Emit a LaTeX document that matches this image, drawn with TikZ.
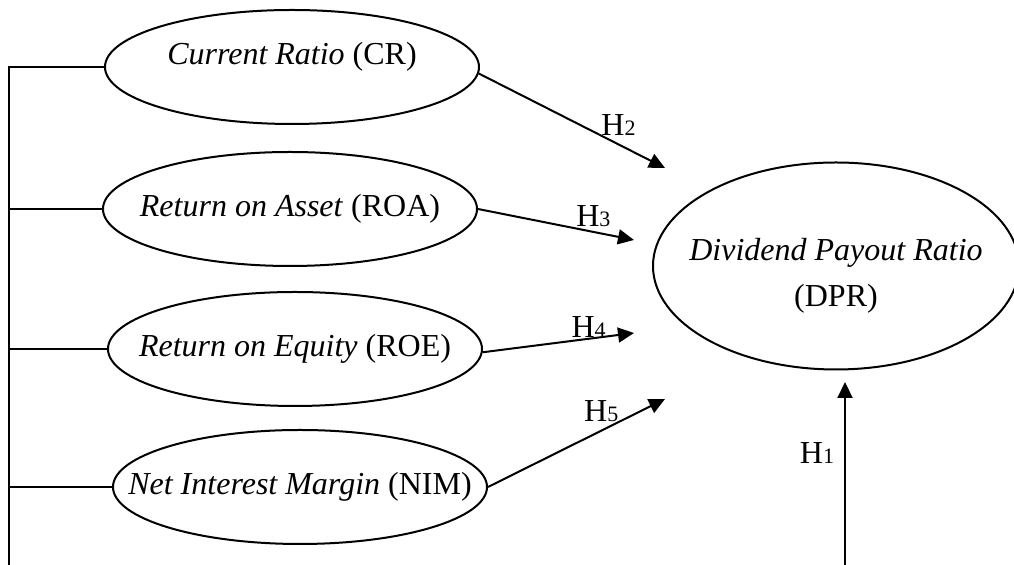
\documentclass[tikz,border=0pt]{standalone}
\usepackage{fontspec}
\setmainfont{Liberation Serif}
\usetikzlibrary{arrows.meta,shapes.geometric}
\newcommand{\hyp}[1]{H{\fontsize{11}{11}\selectfont #1}}
\newcommand{\nowide}[1]{\makebox[0pt]{#1}}

\begin{document}
\begin{tikzpicture}[
    x=0.5pt, y=-0.5pt,
    font=\fontsize{16}{23}\selectfont,
    var/.style  ={ellipse, draw=black, line width=1pt, minimum width=187pt, minimum height=57pt, inner sep=0pt},
    dep/.style  ={ellipse, draw=black, line width=1pt, minimum width=183pt, minimum height=103.5pt, inner sep=0pt, align=center},
    hyp/.style  ={-{Triangle[length=8pt,width=7.5pt]}, line width=1pt, black},
    link/.style ={line width=0.8pt, black},
    lab/.style  ={font=\fontsize{16}{16}\selectfont, inner sep=2pt},
  ]
  \useasboundingbox (0,0) rectangle (1014,565);
  % independent variables, one column on the left
  \node[var, text height=12pt, text depth=14pt] (cr)  at (292,67)  {\nowide{\textit{Current Ratio} (CR)}};
  \node[var] (roa) at (290,209) {\nowide{\textit{Return on Asset} (ROA)}};
  \node[var] (roe) at (295,349) {\nowide{\textit{Return on Equity} (ROE)}};
  \node[var] (nim) at (300,487) {\nowide{\textit{Net Interest Margin} (NIM)}};
  % dependent variable
  \node[dep, text height=41pt, text depth=0pt] (dpr) at (836,266)
    {\nowide{\textit{Dividend Payout Ratio}}\\\nowide{(DPR)}};
  % free arrow ends (the arrows stop short of DPR)
  \coordinate (t2) at (665,168);
  \coordinate (t3) at (634,240);
  \coordinate (t4) at (634,333);
  \coordinate (t5) at (665,399);
  \coordinate (t1) at (845,382);
  \coordinate (bus) at (9,565);
  \coordinate (b1) at (845,565);
  % bracket on the far left
  \draw[link] (cr.west) -| (bus);
  \draw[link] (roa.west) -- (roa.west -| bus);
  \draw[link] (roe.west) -- (roe.west -| bus);
  \draw[link] (nim.west) -- (nim.west -| bus);
  % hypotheses
  \draw[hyp] (cr.-2.5) -- node[lab, pos=0.75, above=2pt] {\hyp{2}} (t2);
  \draw[hyp] (roa.east) -- node[lab, pos=0.74, above=0pt] {\hyp{3}} (t3);
  \draw[hyp] (roe.-1.5) -- node[lab, pos=0.70, above=-2pt] {\hyp{4}} (t4);
  \draw[hyp] (nim.east) -- node[lab, pos=0.64, above=2pt] {\hyp{5}} (t5);
  \draw[hyp] (b1) -- node[lab, pos=0.61, left=3pt] {\hyp{1}} (t1);
\end{tikzpicture}
\end{document}
